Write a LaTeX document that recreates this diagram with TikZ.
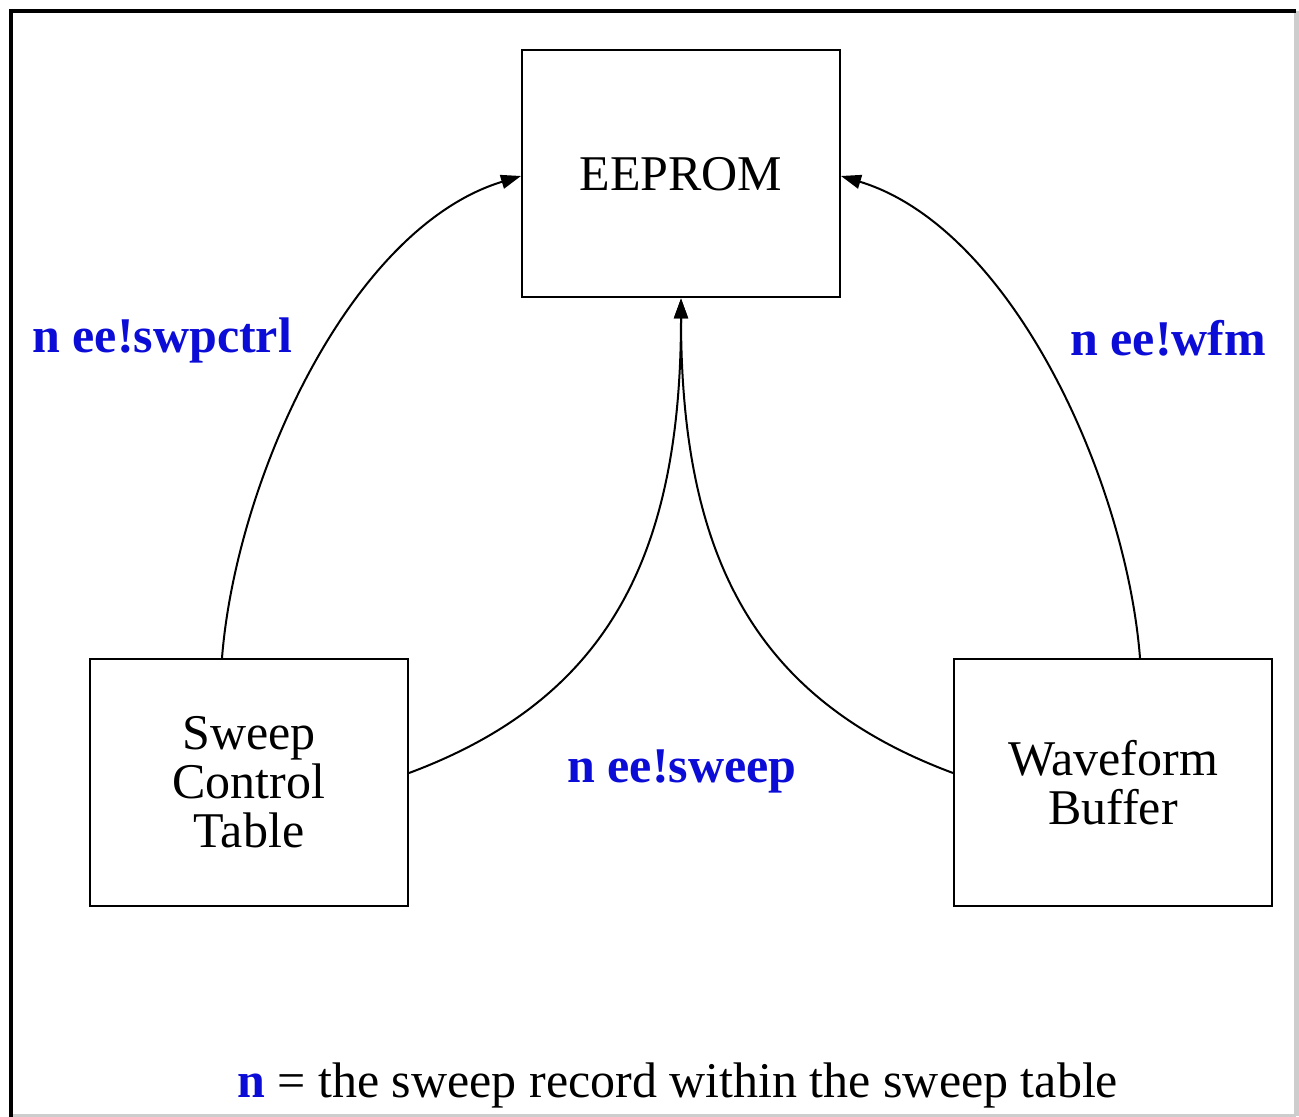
\documentclass[tikz,border=0pt]{standalone}
\usepackage{fontspec}
\setmainfont{Liberation Serif}
\usetikzlibrary{arrows.meta}
\definecolor{labelblue}{RGB}{12,12,215}
\definecolor{framegray}{RGB}{205,205,205}
\tikzset{
  block/.style={draw, line width=1pt, rectangle, minimum width=159pt, minimum height=123.5pt,
    align=center, font=\fontsize{25}{24.5}\selectfont, inner sep=0pt},
  link/.style={line width=1pt, -{Triangle[length=10pt,width=7pt]}},
  edgelabel/.style={text=labelblue, font=\fontsize{25}{30}\selectfont\bfseries, inner sep=0pt, anchor=base west},
  note/.style={font=\fontsize{25}{30}\selectfont, inner sep=0pt, anchor=base west}
}
\begin{document}
\begin{tikzpicture}[x=0.5pt, y=-0.5pt]
  \useasboundingbox (0,0) rectangle (1299,1117);
  % window frame: dark top/left, light bottom/right
  \draw[framegray, line width=2.5pt] (1296,11) -- (1296,1116);
  \draw[framegray, line width=1.5pt] (11,1115.5) -- (1296,1115.5);
  \draw[black, line width=2pt] (9,11) -- (1296,11);
  \draw[black, line width=2pt] (11,9) -- (11,1117);

  % blocks
  \node[block] (eeprom) at (681,174) {EEPROM};
  \node[block] (sweep) at (249,782.5) {Sweep\\Control\\Table};
  \node[block] (wave) at (1113,782.5) {Waveform\\Buffer};

  % connectors into the EEPROM
  \draw[link] ([xshift=-13.5pt]sweep.north) .. controls (236,480) and (350,228) .. ([yshift=-1pt]eeprom.west);
  \draw[link] (sweep.east |- 0,773) .. controls (605,700) and (681,560) .. (eeprom.south);
  \draw[link] (wave.west |- 0,773) .. controls (757,700) and (681,560) .. (eeprom.south);
  \draw[link] ([xshift=13.5pt]wave.north) .. controls (1126,480) and (1012,228) .. ([yshift=-1pt]eeprom.east);

  % labels
  \node[edgelabel] (lswpctrl) at (32,352) {n ee!swpctrl};
  \node[edgelabel] (lwfm) at (1070,356) {n ee!wfm};
  \node[edgelabel] (lsweep) at (567,782) {n ee!sweep};
  \node[note] (legend) at (237,1097) {\textcolor{labelblue}{\bfseries n} = the sweep record within the sweep table};
\end{tikzpicture}
\end{document}
